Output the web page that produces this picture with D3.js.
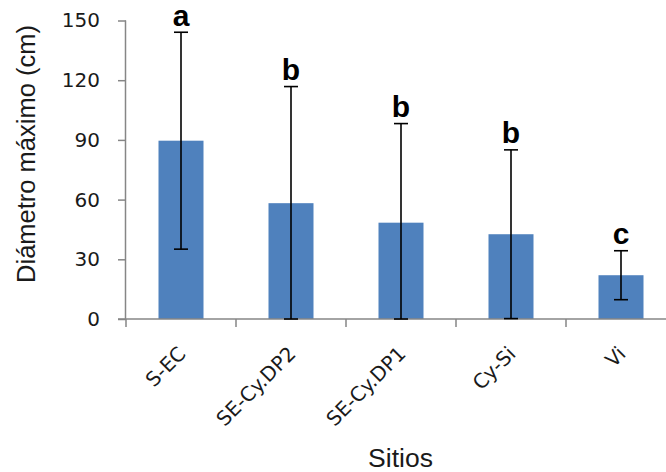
<!DOCTYPE html>
<html>
<head>
<meta charset="utf-8">
<script src="https://cdn.jsdelivr.net/npm/d3@7"></script>
<style>
  html, body { margin: 0; padding: 0; background: #fff; }
  svg { display: block; }
</style>
</head>
<body>
<svg id="chart" width="666" height="472"></svg>
<script>
// Site categories, mean maximum diameter (cm), standard deviation and group letters
const sites = ["S-EC", "SE-Cy.DP2", "SE-Cy.DP1", "Cy-Si", "Vi"];
const meanDiameter = [89.6, 58.2, 48.4, 42.6, 22.0];
const sdDiameter = [54.5, 58.6, 49.8, 42.4, 12.3];
const groupLetters = ["a", "b", "b", "b", "c"];
const yTicks = [0, 30, 60, 90, 120, 150];

const svg = d3.select("#chart");
const axisColor = "#868686";
const barColor = "#4F81BD";

const x0 = 126, bandW = 110;
// one extra slot continues the category axis past the right edge
const x = d3.scaleBand()
  .domain(sites.concat(["_"]))
  .range([x0, x0 + bandW * (sites.length + 1)])
  .paddingInner(0).paddingOuter(0);

const y = d3.scaleLinear().domain([0, 150]).range([319, 20.5]);

const barW = 45;
const rows = sites.map((s, i) => ({
  site: s, mean: meanDiameter[i], sd: sdDiameter[i], letter: groupLetters[i],
  cx: x(s) + x.bandwidth() / 2
}));

// bars
svg.append("g").selectAll("rect").data(rows).join("rect")
  .attr("x", d => d.cx - barW / 2)
  .attr("y", d => y(d.mean))
  .attr("width", barW)
  .attr("height", d => y(0) - y(d.mean))
  .attr("fill", barColor);

// y axis
const yAxis = svg.append("g").attr("transform", `translate(${x0},0)`)
  .call(d3.axisLeft(y).tickValues(yTicks).tickSize(8).tickPadding(18));
yAxis.select(".domain").attr("stroke", axisColor).attr("stroke-width", 1.5)
  .attr("d", `M-0.5,${y(150)}V${y(0)}`);
yAxis.selectAll(".tick line").attr("stroke", axisColor).attr("stroke-width", 1.5);
yAxis.selectAll(".tick text")
  .attr("font-family", "DejaVu Sans, Verdana, sans-serif")
  .attr("font-size", 20).attr("fill", "#1a1a1a");

// x axis line and category boundary ticks
const xAxisG = svg.append("g");
xAxisG.append("line")
  .attr("x1", x0 - 8).attr("x2", 666)
  .attr("y1", y(0)).attr("y2", y(0))
  .attr("stroke", axisColor).attr("stroke-width", 1.5);
const bounds = d3.range(sites.length + 1).map(i => x0 + i * bandW);
xAxisG.selectAll("line.tk").data(bounds).join("line").attr("class", "tk")
  .attr("x1", d => d).attr("x2", d => d)
  .attr("y1", y(0)).attr("y2", y(0) + 8)
  .attr("stroke", axisColor).attr("stroke-width", 1.5);

// rotated category labels
svg.append("g").selectAll("text").data(rows).join("text")
  .attr("transform", d => `translate(${d.cx + 6},355) rotate(-45)`)
  .attr("text-anchor", "end")
  .attr("font-family", "DejaVu Sans, Verdana, sans-serif")
  .attr("font-size", 20).attr("fill", "#1a1a1a")
  .text(d => d.site);

// error bars (lower end clipped at zero)
const capHalf = 7;
const eb = svg.append("g").attr("stroke", "#000").attr("stroke-width", 1.6).attr("fill", "none");
rows.forEach(d => {
  const hi = d.mean + d.sd, lo = Math.max(0, d.mean - d.sd);
  eb.append("line").attr("x1", d.cx).attr("x2", d.cx).attr("y1", y(hi)).attr("y2", y(lo));
  eb.append("line").attr("x1", d.cx - capHalf).attr("x2", d.cx + capHalf).attr("y1", y(hi)).attr("y2", y(hi));
  eb.append("line").attr("x1", d.cx - capHalf).attr("x2", d.cx + capHalf).attr("y1", y(lo)).attr("y2", y(lo));
});

// significance letters
svg.append("g").selectAll("text").data(rows).join("text")
  .attr("x", d => d.cx)
  .attr("y", d => y(d.mean + d.sd) - 6.5)
  .attr("text-anchor", "middle")
  .attr("font-family", "Liberation Sans, Arial, sans-serif")
  .attr("font-weight", "bold")
  .attr("font-size", 30).attr("fill", "#000")
  .text(d => d.letter);

// axis titles
svg.append("text")
  .attr("transform", "translate(35,154) rotate(-90)")
  .attr("text-anchor", "middle")
  .attr("font-family", "Liberation Sans, Arial, sans-serif")
  .attr("font-size", 25.5).attr("fill", "#1a1a1a")
  .text("Diámetro máximo (cm)");

svg.append("text")
  .attr("x", 400.5).attr("y", 466.5)
  .attr("text-anchor", "middle")
  .attr("font-family", "Liberation Sans, Arial, sans-serif")
  .attr("font-size", 26.5).attr("fill", "#1a1a1a")
  .text("Sitios");
</script>
</body>
</html>
